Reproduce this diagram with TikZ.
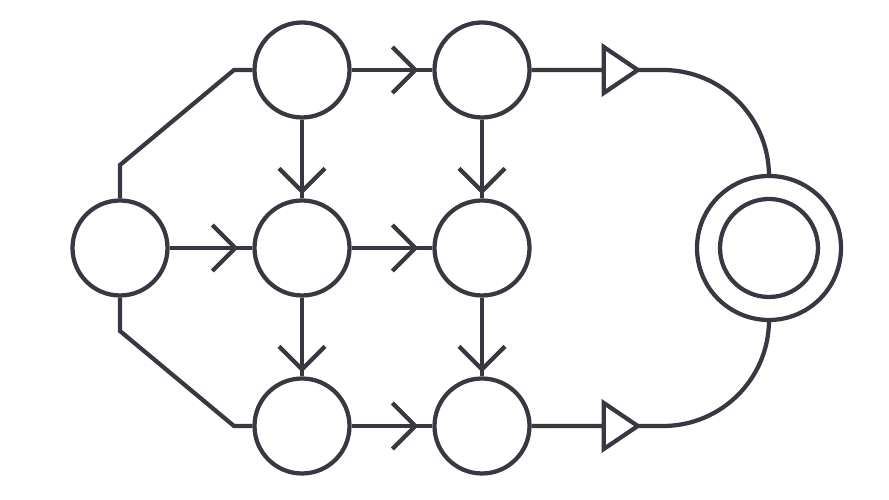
\documentclass[tikz,border=0pt]{standalone}
\usetikzlibrary{arrows.meta,decorations.markings}

\definecolor{ink}{RGB}{56,56,66}

\tikzset{
  state/.style={draw=ink, line width=0.085cm, circle, inner sep=0pt, minimum size=1.9cm},
  link/.style={draw=ink, line width=0.085cm},
  flow/.style={link, postaction={decorate},
    decoration={markings, mark=at position #1 with {\arrow[ink, line width=0.085cm]{Straight Barb[length=0.46cm, width=0.92cm]}}}},
  gate/.style={link, rounded corners=2.12cm, postaction={decorate},
    decoration={markings, mark=at position 2.2cm with {\arrow[ink, line width=0.085cm, line join=round]{Triangle[length=0.8cm, width=1.06cm, fill=white]}}}},
}

\begin{document}
\begin{tikzpicture}

    \useasboundingbox (0,0) rectangle (17.78,10);

    \node[state] (x) at (2.4,5.04) {};

    \node[state] (h11) at (6.04,8.6) {};
    \node[state] (h12) at (9.64,8.6) {};
    \node[state] (h21) at (6.04,5.04) {};
    \node[state] (h22) at (9.64,5.04) {};
    \node[state] (h31) at (6.04,1.48) {};
    \node[state] (h32) at (9.64,1.48) {};

    \node[state, minimum size=2.88cm] (acc) at (15.38,5.04) {};
    \node[state, minimum size=1.96cm] (accin) at (acc) {};

    \coordinate (up1) at (2.4,6.7);
    \coordinate (up2) at (4.68,8.6);
    \coordinate (dn1) at (2.4,3.38);
    \coordinate (dn2) at (4.68,1.48);

    \draw[link] (x) -- (up1) -- (up2) -- (h11);
    \draw[link] (x) -- (dn1) -- (dn2) -- (h31);

    \draw[flow=-0.28cm] (x) -- (h21);
    \draw[flow=-0.28cm] (h11) -- (h12);
    \draw[flow=-0.28cm] (h21) -- (h22);
    \draw[flow=-0.28cm] (h31) -- (h32);

    \draw[flow=-0.08cm] (h11) -- (h21);
    \draw[flow=-0.08cm] (h21) -- (h31);
    \draw[flow=-0.08cm] (h12) -- (h22);
    \draw[flow=-0.08cm] (h22) -- (h32);

    \draw[gate] (h12) -| (acc);
    \draw[gate] (h32) -| (acc);

\end{tikzpicture}
\end{document}
